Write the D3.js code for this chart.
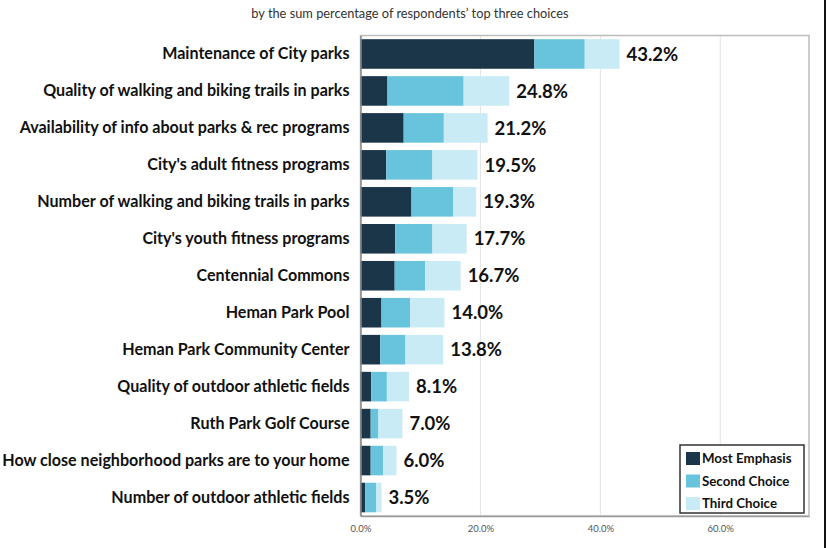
<!DOCTYPE html>
<html><head><meta charset="utf-8">
<script src="https://cdn.jsdelivr.net/npm/d3@7"></script>
<style>body{margin:0;background:#fff}svg{display:block}</style>
</head><body>
<svg id="c" width="827" height="548"></svg>
<script>
const categories = [
  "Maintenance of City parks",
  "Quality of walking and biking trails in parks",
  "Availability of info about parks & rec programs",
  "City's adult fitness programs",
  "Number of walking and biking trails in parks",
  "City's youth fitness programs",
  "Centennial Commons",
  "Heman Park Pool",
  "Heman Park Community Center",
  "Quality of outdoor athletic fields",
  "Ruth Park Golf Course",
  "How close neighborhood parks are to your home",
  "Number of outdoor athletic fields"
];
const mostEmphasis = [29.0, 4.5, 7.2, 4.3, 8.5, 5.8, 5.7, 3.5, 3.3, 1.8, 1.7, 1.7, 0.8];
const secondChoice = [8.4, 12.7, 6.7, 7.7, 7.0, 6.2, 5.1, 4.8, 4.2, 2.6, 1.3, 2.1, 1.8];
const thirdChoice  = [5.8, 7.6, 7.3, 7.5, 3.8, 5.7, 5.9, 5.7, 6.3, 3.7, 4.0, 2.2, 0.9];
const totals = [43.2, 24.8, 21.2, 19.5, 19.3, 17.7, 16.7, 14.0, 13.8, 8.1, 7.0, 6.0, 3.5];
const seriesNames = ["Most Emphasis", "Second Choice", "Third Choice"];
const seriesColors = ["#1b3549", "#67c4dc", "#c8ebf6"];
const xTicks = [0, 20, 40, 60];
const title = "by the sum percentage of respondents\u2019 top three choices";

const svg = d3.select("#c");
const m = {left: 360.5, right: 809, top: 35.5, bottom: 516};
const x = d3.scaleLinear().domain([0, 74.8]).range([m.left, m.right]);
const y = d3.scaleBand().domain(categories).range([m.top, m.bottom]).paddingInner(0.2).paddingOuter(0.1);

const rows = categories.map((c, i) => ({cat: c, v: [mostEmphasis[i], secondChoice[i], thirdChoice[i]], total: totals[i]}));
const stack = d3.stack().keys([0, 1, 2]).value((d, k) => d.v[k]);
const layers = stack(rows);

// title
svg.append("text").attr("x", 410).attr("y", 18).attr("text-anchor", "middle")
  .attr("font-family", "Lato, 'Open Sans', sans-serif").attr("font-size", 12.8).attr("fill", "#333")
  .text(title);

// gridlines
svg.append("g").selectAll("line").data(xTicks.filter(t => t > 0)).join("line")
  .attr("x1", d => x(d)).attr("x2", d => x(d)).attr("y1", m.top).attr("y2", m.bottom)
  .attr("stroke", "#e3e3e3").attr("stroke-width", 1);

// plot border
svg.append("rect").attr("x", m.left).attr("y", m.top).attr("width", m.right - m.left).attr("height", m.bottom - m.top)
  .attr("fill", "none").attr("stroke", "#bdbdbd").attr("stroke-width", 1.5);

// bars
svg.append("g").selectAll("g").data(layers).join("g")
  .attr("fill", (d, i) => seriesColors[i])
  .selectAll("rect").data(d => d).join("rect")
  .attr("x", d => x(d[0])).attr("width", d => x(d[1]) - x(d[0]))
  .attr("y", d => y(d.data.cat)).attr("height", y.bandwidth());

// x axis
const xAxis = d3.axisBottom(x).tickValues(xTicks).tickFormat(d => d.toFixed(1) + "%").tickSize(0).tickPadding(9);
const gx = svg.append("g").attr("transform", `translate(0,${m.bottom})`).call(xAxis);
gx.select(".domain").attr("stroke", "#9a9a9a").attr("stroke-width", 1.5);
gx.selectAll("text").attr("font-family", "Lato, 'Open Sans', sans-serif").attr("font-size", 9.5).attr("fill", "#555");

// y axis
const yAxis = d3.axisLeft(y).tickSize(0).tickPadding(11);
const gy = svg.append("g").attr("transform", `translate(${m.left},0)`).call(yAxis);
gy.select(".domain").attr("stroke", "#8a8a8a").attr("stroke-width", 1.5);
gy.selectAll("text").attr("font-family", "Lato, 'Open Sans', sans-serif").attr("font-weight", "bold")
  .attr("font-size", 16.1).attr("fill", "#111");

// value labels
svg.append("g").selectAll("text").data(rows).join("text")
  .attr("x", d => x(d.total) + 7).attr("y", d => y(d.cat) + y.bandwidth() / 2)
  .attr("dy", "0.36em")
  .attr("font-family", "Lato, 'Open Sans', sans-serif").attr("font-weight", "bold").attr("font-size", 18.5).attr("fill", "#111")
  .text(d => d.total.toFixed(1) + "%");

// legend
const lg = svg.append("g").attr("transform", "translate(680,445)");
lg.append("rect").attr("width", 124).attr("height", 68).attr("fill", "#fff").attr("stroke", "#333").attr("stroke-width", 1.5);
seriesNames.forEach((n, i) => {
  const g = lg.append("g").attr("transform", `translate(6,${7 + i * 22.5})`);
  g.append("rect").attr("width", 14).attr("height", 13).attr("fill", seriesColors[i]);
  g.append("text").attr("x", 16).attr("y", 6.5).attr("dy", "0.36em")
    .attr("font-family", "Lato, 'Open Sans', sans-serif").attr("font-weight", "bold").attr("font-size", 13.3).attr("fill", "#111")
    .text(n);
});

// outer right frame line
svg.append("line").attr("x1", 825).attr("x2", 825).attr("y1", 0).attr("y2", 548).attr("stroke", "#111").attr("stroke-width", 2);
</script>
</body></html>
